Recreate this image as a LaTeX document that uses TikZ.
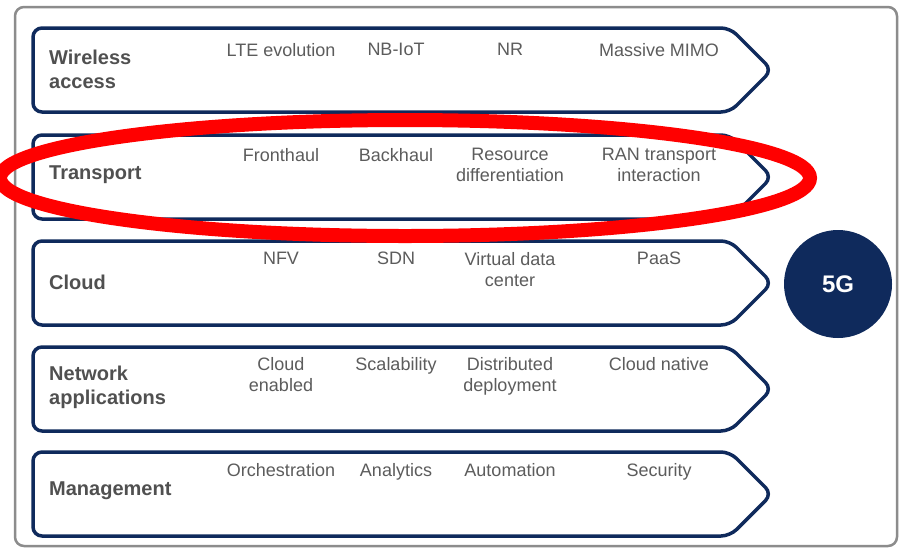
\documentclass[tikz,border=0pt]{standalone}
\usepackage{fontspec}
\setmainfont{Liberation Sans}
\definecolor{navy}{HTML}{0F2A5C}
\definecolor{labelgray}{HTML}{505050}
\definecolor{itemgray}{HTML}{5C5C5C}
\definecolor{framegray}{HTML}{8C8C8C}
\begin{document}
\begin{tikzpicture}[x=1pt,y=-1pt,
  rowshape/.style={draw=navy, line width=3.5pt, rounded corners=9pt, fill=white},
  rowlabel/.style={anchor=west, inner sep=0pt, align=left, text=labelgray,
    font=\bfseries\fontsize{20}{24}\selectfont},
  rowitem/.style={anchor=north, inner sep=0pt, align=center, text=itemgray,
    font=\fontsize{18}{21}\selectfont},
  fiveg/.style={circle, fill=navy, minimum size=108pt, inner sep=0pt, text=white,
    font=\bfseries\fontsize{24}{28}\selectfont},
  highlight/.style={draw=red, line width=14pt}]
\useasboundingbox (0,0) rectangle (901,547);
\clip (0,0) rectangle (901,547);
\fill[white] (0,0) rectangle (901,547);
\draw[framegray, line width=2.5pt, rounded corners=9pt] (15,7) rectangle (897,546);
% rows
\foreach \T in {28,135,241,347,452}{
  \draw[rowshape] (33,\T+42) -- (33,\T) -- (730,\T) -- (772,\T+42) -- (730,\T+84) -- (33,\T+84) -- cycle;
}
% labels
\node[rowlabel] (l1) at (49,69) {Wireless\\access};
\node[rowlabel] (l2) at (49,175) {Transport};
\node[rowlabel] (l3) at (49,282) {Cloud};
\node[rowlabel] (l4) at (49,387) {Network\\applications};
\node[rowlabel] (l5) at (49,491) {Management};
% items row 1
\node[rowitem] (i11) at (281,43) {LTE evolution};
\node[rowitem] (i12) at (396,43) {NB-IoT};
\node[rowitem] (i13) at (510,43) {NR};
\node[rowitem] (i14) at (659,43) {Massive MIMO};
% row 2
\node[rowitem] (i21) at (281,148) {Fronthaul};
\node[rowitem] (i22) at (396,148) {Backhaul};
\node[rowitem] (i23) at (510,148) {Resource\\differentiation};
\node[rowitem] (i24) at (659,148) {RAN transport\\interaction};
% row 3
\node[rowitem] (i31) at (281,252) {NFV};
\node[rowitem] (i32) at (396,252) {SDN};
\node[rowitem] (i33) at (510,252) {Virtual data\\center};
\node[rowitem] (i34) at (659,252) {PaaS};
% row 4
\node[rowitem] (i41) at (281,357) {Cloud\\enabled};
\node[rowitem] (i42) at (396,357) {Scalability};
\node[rowitem] (i43) at (510,357) {Distributed\\deployment};
\node[rowitem] (i44) at (659,357) {Cloud native};
% row 5
\node[rowitem] (i51) at (281,463) {Orchestration};
\node[rowitem] (i52) at (396,463) {Analytics};
\node[rowitem] (i53) at (510,463) {Automation};
\node[rowitem] (i54) at (659,463) {Security};
% 5G
\node[fiveg] (g) at (838,284) {5G};
% red highlight
\draw[highlight] (405,178) ellipse [x radius=405, y radius=58];
\end{tikzpicture}
\end{document}
